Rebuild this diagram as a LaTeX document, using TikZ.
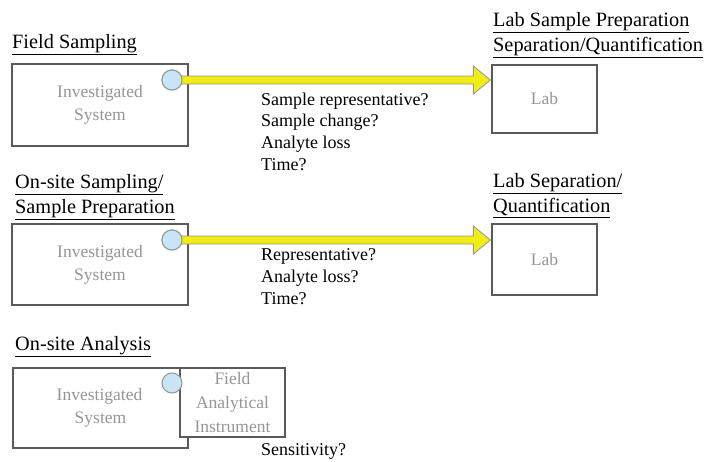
\documentclass[tikz,border=0pt]{standalone}
\usepackage{fontspec}
\setmainfont{Liberation Serif}
\usetikzlibrary{calc}
\definecolor{boxline}{RGB}{90,90,90}
\definecolor{softgray}{RGB}{150,150,150}
\definecolor{portblue}{RGB}{200,228,245}
\definecolor{pipeyellow}{RGB}{240,236,20}
\tikzset{
  sysbox/.style={draw=boxline, line width=1.3pt, fill=white, rectangle, inner sep=0pt,
    align=center, text=softgray, font=\fontsize{17.5}{23}\selectfont},
  port/.style={circle, draw=softgray, line width=1pt, fill=portblue, minimum size=20pt, inner sep=0pt},
  heading/.style={anchor=west, inner sep=0pt, align=left, font=\fontsize{20.3}{25}\selectfont},
  notes/.style={anchor=north west, inner sep=0pt, align=left, font=\fontsize{18}{21.7}\selectfont},
  pipe/.style={draw=softgray, line width=0.8pt, fill=pipeyellow, line join=miter}
}
% yellow block arrow from a port to the left side of a box, kept level with the port
\newcommand{\pipe}[2]{%
  \coordinate (tip) at (#2.west |- #1.east);
  \path[pipe] ($(#1.east)+(-1,-4)$) -- ($(tip)+(-18,-4)$) -- ($(tip)+(-18,-14)$)
    -- ($(tip)+(-1,0)$) -- ($(tip)+(-18,14)$) -- ($(tip)+(-18,4)$)
    -- ($(#1.east)+(-1,4)$) -- cycle;}
\begin{document}
\begin{tikzpicture}[x=1pt,y=-1pt]
\useasboundingbox (0,0) rectangle (704,461);

% Field sampling row
\node[heading] (h1) at (12,45) {\underline{Field Sampling}};
\node[sysbox, minimum width=176pt, minimum height=82pt] (sys1) at (100,105) {Investigated\\System};
\node[sysbox, minimum width=105pt, minimum height=68pt] (lab1) at (544.5,99) {Lab};
\node[heading] (h1r) at (493,35) {\underline{Lab Sample Preparation}\\\underline{Separation/Quantification}};
\node[port] (p1) at (172,80) {};
\pipe{p1}{lab1}
\node[port] at (p1) {};
\node[notes] (n1) at (261,92.5) {Sample representative?\\Sample change?\\Analyte loss\\Time?};

% On-site sampling row
\node[heading] (h2) at (15,197) {\underline{On-site Sampling/}\\\underline{Sample Preparation}};
\node[sysbox, minimum width=176pt, minimum height=81pt] (sys2) at (100,264.5) {Investigated\\System};
\node[sysbox, minimum width=105pt, minimum height=71pt] (lab2) at (544.5,259.5) {Lab};
\node[heading] (h2r) at (493,196) {\underline{Lab Separation/}\\\underline{Quantification}};
\node[port] (p2) at (172,240) {};
\pipe{p2}{lab2}
\node[port] at (p2) {};
\node[notes, font=\fontsize{18}{22}\selectfont] (n2) at (261,248.5) {Representative?\\Analyte loss?\\Time?};

% On-site analysis row
\node[heading] (h3) at (15,347) {\underline{On-site Analysis}};
\node[sysbox, minimum width=175pt, minimum height=80pt] (sys3) at (100.5,408) {\hspace*{-2pt}Investigated\\System};
\node[sysbox, minimum width=105pt, minimum height=69pt, font=\fontsize{17.5}{24}\selectfont] (inst) at (232.5,402.5) {Field\\Analytical\\Instrument};
\node[port] (p3) at (172,383) {};
\node[notes] (n3) at (261,443) {Sensitivity?};
\end{tikzpicture}
\end{document}
